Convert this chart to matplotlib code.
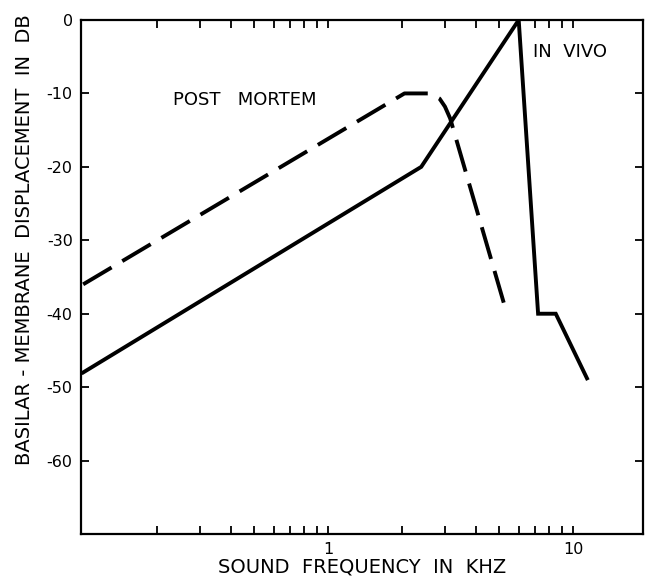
import matplotlib
matplotlib.use("Agg")
import matplotlib.pyplot as plt
from matplotlib.ticker import LogLocator, FixedLocator, FixedFormatter, NullFormatter

# in vivo (solid) and post mortem (dashed) curves
vivo_khz = [0.1, 2.4, 6.0, 7.2, 8.5, 11.4]
vivo_db = [-48, -20, 0, -40, -40, -48.8]

mortem_khz = [0.1, 2.05, 2.6, 2.85, 3.0, 3.15, 5.35]
mortem_db = [-36, -10, -10, -10.7, -11.8, -13.4, -39.8]

y_ticks = [0, -10, -20, -30, -40, -50, -60, -70]
y_labels = ["0", "-10", "-20", "-30", "-40", "-50", "-60", ""]

plt.rcParams["font.family"] = ["DejaVu Sans"]

fig = plt.figure(figsize=(6.47, 5.78), dpi=100)
ax = fig.add_axes([0.1252, 0.0761, 0.8686, 0.8893])

ax.plot(vivo_khz, vivo_db, color="black", lw=2.8, solid_joinstyle="miter")
ax.plot(mortem_khz, mortem_db, color="black", lw=2.8, dashes=(8.5, 3.2),
        dash_capstyle="butt")

ax.set_xscale("log")
ax.set_xlim(0.098, 19.3)
ax.set_ylim(-70, 0)

ax.xaxis.set_major_locator(FixedLocator([1, 10]))
ax.xaxis.set_major_formatter(FixedFormatter(["1", "10"]))
ax.xaxis.set_minor_locator(LogLocator(base=10, subs=range(2, 10)))
ax.xaxis.set_minor_formatter(NullFormatter())
ax.yaxis.set_major_locator(FixedLocator(y_ticks))
ax.yaxis.set_major_formatter(FixedFormatter(y_labels))

ax.tick_params(which="both", direction="in", top=True, right=True,
               width=1.3, labelsize=11.5)
ax.tick_params(which="major", length=6, pad=6)
ax.tick_params(which="minor", length=6)
for s in ax.spines.values():
    s.set_linewidth(1.6)

ax.text(0.232, -10.9, "POST   MORTEM", fontsize=13, ha="left", va="center")
ax.text(6.85, -4.4, "IN  VIVO", fontsize=13, ha="left", va="center")

ax.set_xlabel("SOUND  FREQUENCY  IN  KHZ", fontsize=14, labelpad=0)
ax.set_ylabel("BASILAR - MEMBRANE  DISPLACEMENT  IN  DB", fontsize=14)
ax.yaxis.set_label_coords(-0.084, 0.573)

fig.savefig("out.png", dpi=100)
